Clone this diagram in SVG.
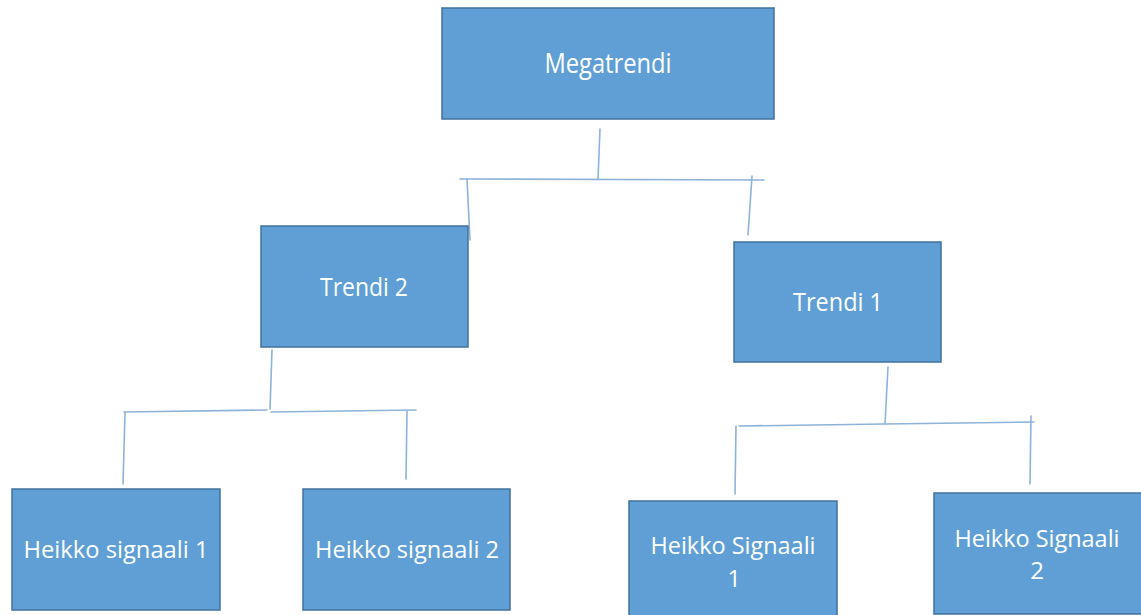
<svg xmlns="http://www.w3.org/2000/svg" width="1141" height="615" viewBox="0 0 1141 615">
<style>
.box{fill:#5F9FD6;stroke:#41719C;stroke-width:1.5}
.t{fill:#FFFFFF;font-family:"Open Sans","Noto Sans",sans-serif;text-anchor:middle}
.c{fill:none;stroke:#8DB3D9;stroke-width:1.6;stroke-linecap:round}
</style>
<rect x="0" y="0" width="1141" height="615" fill="#FFFFFF"/>
<g id="connectors">
<line class="c" x1="600" y1="129" x2="598" y2="179"/>
<line class="c" x1="460" y1="179" x2="764" y2="180"/>
<line class="c" x1="467" y1="179" x2="470" y2="240"/>
<line class="c" x1="752" y1="176" x2="748" y2="235"/>
<line class="c" x1="272" y1="350" x2="270" y2="409"/>
<line class="c" x1="124" y1="412" x2="267" y2="410"/>
<line class="c" x1="271" y1="412" x2="416" y2="410"/>
<line class="c" x1="125" y1="413" x2="123" y2="484"/>
<line class="c" x1="407" y1="411" x2="406" y2="479"/>
<line class="c" x1="888" y1="367" x2="885" y2="424"/>
<line class="c" x1="739" y1="426" x2="884" y2="424"/>
<line class="c" x1="885" y1="424" x2="1034" y2="422"/>
<line class="c" x1="736" y1="426" x2="735" y2="494"/>
<line class="c" x1="1031" y1="416" x2="1030" y2="484"/>
</g>
<g id="megatrendi">
<rect class="box" x="442" y="8" width="332" height="111"/>
<text class="t" x="608" y="73" font-size="27" textLength="127" lengthAdjust="spacingAndGlyphs">Megatrendi</text>
</g>
<g id="trendi2">
<rect class="box" x="261" y="226" width="207" height="121"/>
<text class="t" x="364" y="296" font-size="25" textLength="88" lengthAdjust="spacingAndGlyphs">Trendi 2</text>
</g>
<g id="trendi1">
<rect class="box" x="734" y="242" width="207" height="120"/>
<text class="t" x="838" y="311" font-size="25" textLength="90" lengthAdjust="spacingAndGlyphs">Trendi 1</text>
</g>
<g id="heikko-signaali-1">
<rect class="box" x="12" y="489" width="208" height="121"/>
<text class="t" x="116" y="558" font-size="24" textLength="185" lengthAdjust="spacingAndGlyphs">Heikko signaali 1</text>
</g>
<g id="heikko-signaali-2">
<rect class="box" x="303" y="489" width="207" height="121"/>
<text class="t" x="407" y="558" font-size="24" textLength="184" lengthAdjust="spacingAndGlyphs">Heikko signaali 2</text>
</g>
<g id="heikko-Signaali-1">
<rect class="box" x="629" y="501" width="208" height="120"/>
<text class="t" x="733" y="554" font-size="24" textLength="165" lengthAdjust="spacingAndGlyphs">Heikko Signaali</text>
<text class="t" x="734" y="587" font-size="24">1</text>
</g>
<g id="heikko-Signaali-2">
<rect class="box" x="934" y="493" width="212" height="121"/>
<text class="t" x="1037" y="547" font-size="24" textLength="165" lengthAdjust="spacingAndGlyphs">Heikko Signaali</text>
<text class="t" x="1037" y="579" font-size="24">2</text>
</g>
</svg>
